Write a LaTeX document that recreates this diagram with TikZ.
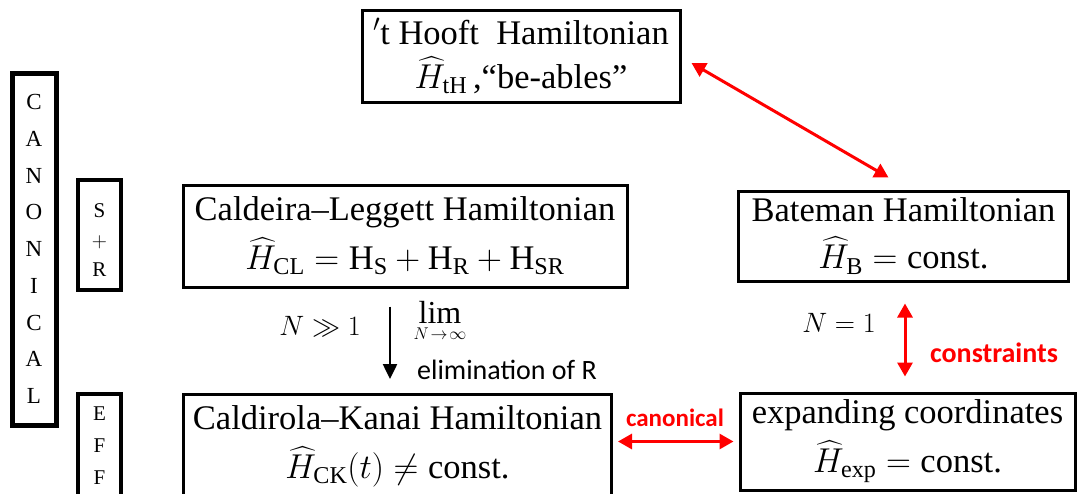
\documentclass[tikz,border=0pt]{standalone}
\usepackage{fix-cm}
\usepackage{amsmath}
\usepackage{fontspec}
\setmainfont{Liberation Serif}
\newfontfamily\lblfont{Carlito}
\usetikzlibrary{arrows.meta}
\newcommand\boxfont{\fontsize{34.5}{49}\selectfont}
\tikzset{
  box/.style={draw, line width=3pt, inner sep=0pt, align=center, font=\boxfont},
  sidebox/.style={draw, inner sep=0pt, align=center},
  redarr/.style={draw=red, line width=3pt, {Triangle[length=14pt,width=15pt]}-{Triangle[length=14pt,width=15pt]}},
  blackarr/.style={draw=black, line width=2.5pt, -{Triangle[length=15pt,width=14pt]}},
  mathlbl/.style={inner sep=0pt, font=\fontsize{28}{32}\selectfont},
  redlbl/.style={inner sep=0pt, text=red, font=\lblfont\bfseries\fontsize{25}{28}\selectfont},
  sanslbl/.style={inner sep=0pt, font=\lblfont\fontsize{28}{30}\selectfont}
}
\begin{document}
\begin{tikzpicture}[x=1pt,y=-1pt]
\useasboundingbox (0,0) rectangle (1077,493);
\clip (0,0) rectangle (1077,493);
% main boxes
\node[box, minimum width=318pt, minimum height=92pt, font=\fontsize{34.5}{44}\selectfont] (tH) at (521,56)
  {${}^{\prime}$t Hooft~~Hamiltonian\\$\widehat{H}_{\mathrm{tH}}$\,,“be-ables”};
\node[box, minimum width=444pt, minimum height=102pt] (CL) at (405,236)
  {Caldeira–Leggett Hamiltonian\\$\widehat{H}_{\mathrm{CL}}=\mathrm{H}_{\mathrm{S}}+\mathrm{H}_{\mathrm{R}}+\mathrm{H}_{\mathrm{SR}}$};
\node[box, minimum width=330pt, minimum height=90pt, font=\fontsize{34.5}{47}\selectfont] (B) at (903.5,236)
  {Bateman Hamiltonian\\$\widehat{H}_{\mathrm{B}}=\text{const.}$};
\node[box, minimum width=428pt, minimum height=112pt, text depth=17pt, anchor=north] (CK) at (397.5,393)
  {Caldirola–Kanai Hamiltonian\\$\widehat{H}_{\mathrm{CK}}(t)\neq\text{const.}$};
\node[box, minimum width=335pt, minimum height=97pt] (exp) at (907.5,441.5)
  {expanding coordinates\\$\widehat{H}_{\mathrm{exp}}=\text{const.}$};
% side boxes
\node[sidebox, line width=5pt, minimum width=44pt, minimum height=352pt, font=\fontsize{23}{36.7}\selectfont] (can) at (34,249)
  {C\\A\\N\\O\\N\\I\\C\\A\\L};
\node[sidebox, line width=4pt, minimum width=43pt, minimum height=110pt, text height=84pt, font=\fontsize{21}{29.5}\selectfont] (sr) at (99.5,234.5)
  {S\\$+$\\R};
\node[sidebox, line width=4pt, minimum width=43pt, minimum height=130pt, text depth=26pt, anchor=north, font=\fontsize{21}{32}\selectfont] (eff) at (99.5,392)
  {E\\F\\F};
% arrows
\draw[redarr] ([xshift=10pt,yshift=-7pt]tH.east) -- ([xshift=-15pt,yshift=12pt]B.north);
\draw[blackarr] ([xshift=-15pt,yshift=-18pt]CL.south) -- ([xshift=-7.5pt,yshift=14pt]CK.north);
\draw[redarr] ([xshift=1.5pt,yshift=-21pt]B.south) -- ([xshift=-2.5pt,yshift=15pt]exp.north);
\draw[redarr] ([xshift=5pt]CK.east |- exp.west) -- ([xshift=-5pt]exp.west);
% labels
\node[mathlbl] (nll) at (320,326) {$N\gg 1$};
\node[mathlbl, font=\fontsize{32}{34}\selectfont] (lim) at (440,322)
  {$\displaystyle\lim_{\mbox{\fontsize{17}{18}\selectfont$N\!\to\!\infty$}}$};
\node[sanslbl] (elim) at (507,370) {elimination of R};
\node[mathlbl] (neq) at (839,323) {$N=1$};
\node[redlbl, font=\lblfont\bfseries\fontsize{28}{30}\selectfont] (cons) at (994,353) {constraints};
\node[redlbl] (canl) at (675,418) {canonical};
\end{tikzpicture}
\end{document}
